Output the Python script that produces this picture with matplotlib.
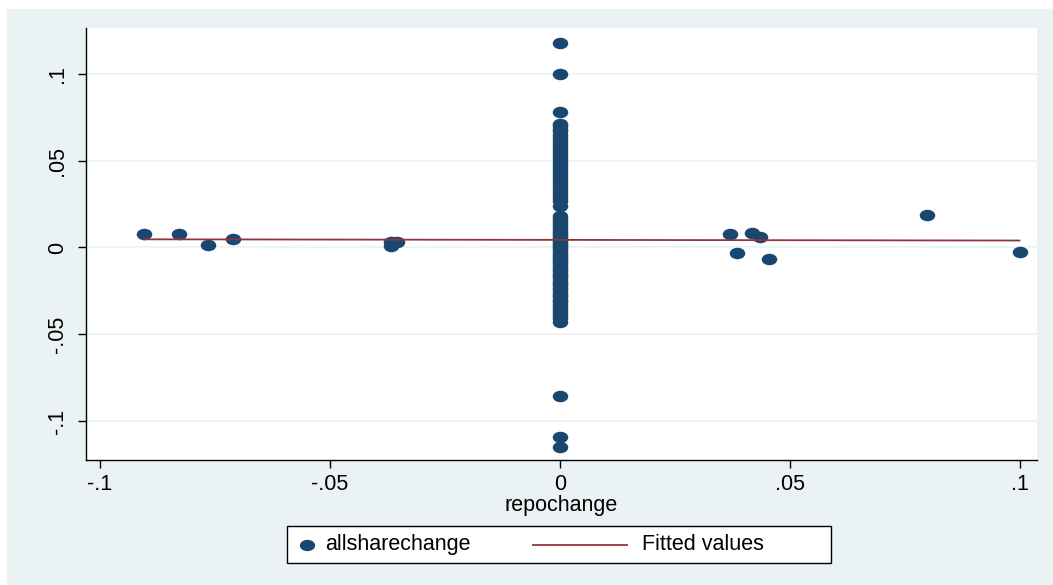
import matplotlib.pyplot as plt
from matplotlib.path import Path
from matplotlib.transforms import Affine2D
from matplotlib.lines import Line2D
from matplotlib.patches import Rectangle

plt.rcParams['font.family'] = ['Liberation Sans', 'DejaVu Sans']

# scattered points away from zero repo change
side_x = [-0.0904, -0.0828, -0.0765, -0.0711, -0.0367, -0.0367, -0.0354,
          0.0370, 0.0385, 0.0417, 0.0435, 0.0455, 0.0799, 0.0999]
side_y = [0.0080, 0.0075, 0.0017, 0.0046, 0.0034, 0.0006, 0.0034,
          0.0075, -0.0030, 0.0084, 0.0060, -0.0067, 0.0188, -0.0027]

# points at repochange == 0
center_y = [0.1178, 0.0998, 0.0778,
            0.0713, 0.0700, 0.0685, 0.0668, 0.0650, 0.0632, 0.0615, 0.0598,
            0.0580, 0.0562, 0.0545, 0.0528, 0.0510, 0.0492, 0.0475, 0.0458,
            0.0440, 0.0422, 0.0405, 0.0388, 0.0370, 0.0352, 0.0335, 0.0318,
            0.0300, 0.0285, 0.0270, 0.0240, 0.0184, 0.0165, 0.0150, 0.0135,
            0.0120, 0.0105, 0.0090, 0.0078, 0.0065, 0.0052, 0.0040, 0.0028,
            0.0015, 0.0003, -0.0010, -0.0022, -0.0035, -0.0048, -0.0060,
            -0.0073, -0.0086, -0.0098, -0.0112, -0.0125, -0.0138, -0.0150,
            -0.0165, -0.0178, -0.0192, -0.0205, -0.0218, -0.0232, -0.0246,
            -0.0260, -0.0274, -0.0288, -0.0302, -0.0316, -0.0330, -0.0345,
            -0.0360, -0.0375, -0.0390, -0.0405, -0.0429, -0.0856, -0.1090,
            -0.1148]
center_x = [0.0] * len(center_y)

# fitted regression line endpoints
fit_x = [-0.0904, 0.0999]
fit_y = [0.0047, 0.0040]

xticks = [-0.1, -0.05, 0, 0.05, 0.1]
xlabels = ['-.1', '-.05', '0', '.05', '.1']
yticks = [-0.1, -0.05, 0, 0.05, 0.1]
ylabels = ['-.1', '-.05', '0', '.05', '.1']

navy = '#1A476F'
maroon = '#90353B'
panel = '#EAF2F3'
fs = 15.5

W, H = 1053, 585

# stata circles look a bit wider than tall here
ellipse = Path.unit_circle().transformed(Affine2D().scale(1.35, 1.0))

fig = plt.figure(figsize=(W / 100, H / 100), dpi=100, facecolor='white')
fig.patches.append(Rectangle((7 / W, 0), 1, (H - 9) / H,
                             transform=fig.transFigure, color=panel, zorder=-10))

ax = fig.add_axes([86 / W, 125 / H, (1037 - 86) / W, (460 - 28) / H])
ax.set_facecolor('white')

all_x = side_x + center_x
all_y = side_y + center_y
ax.scatter(all_x, all_y, marker=ellipse, s=11.2 ** 2, color=navy,
           linewidths=0, zorder=3)
ax.plot(fit_x, fit_y, color=maroon, linewidth=1.3, zorder=4)

ax.set_xlim(-0.1030, 0.1037)
ax.set_ylim(-0.1224, 0.1264)
ax.set_xticks(xticks)
ax.set_xticklabels(xlabels, fontsize=fs)
ax.set_yticks(yticks)
ax.set_yticklabels(ylabels, fontsize=fs, rotation=90, va='center')
ax.grid(axis='y', color=panel, linewidth=1.2)
ax.set_axisbelow(True)
ax.tick_params(length=6, width=1, pad=4)
ax.tick_params(axis='y', pad=7)

for s in ['top', 'right']:
    ax.spines[s].set_visible(False)
for s in ['left', 'bottom']:
    ax.spines[s].set_linewidth(1)

ax.set_xlabel('repochange', fontsize=fs, labelpad=0)

# legend box drawn by hand (stata puts the marker near the left edge)
ly = 1 - 544.5 / H
fig.patches.append(Rectangle((287 / W, 1 - 563 / H), (831 - 287) / W, 37 / H,
                             transform=fig.transFigure, facecolor='white',
                             edgecolor='black', linewidth=1, zorder=5))
fig.add_artist(Line2D([307 / W], [ly], transform=fig.transFigure,
                      marker=ellipse, linestyle='none', color=navy,
                      markersize=11, markeredgewidth=0, zorder=6))
fig.text(325 / W, ly, 'allsharechange', fontsize=fs, va='center', zorder=6)
fig.add_artist(Line2D([533 / W, 627 / W], [ly, ly], transform=fig.transFigure,
                      color=maroon, linewidth=1.3, zorder=6))
fig.text(642 / W, ly, 'Fitted values', fontsize=fs, va='center', zorder=6)

fig.savefig('out.png', dpi=100, facecolor=fig.get_facecolor())
